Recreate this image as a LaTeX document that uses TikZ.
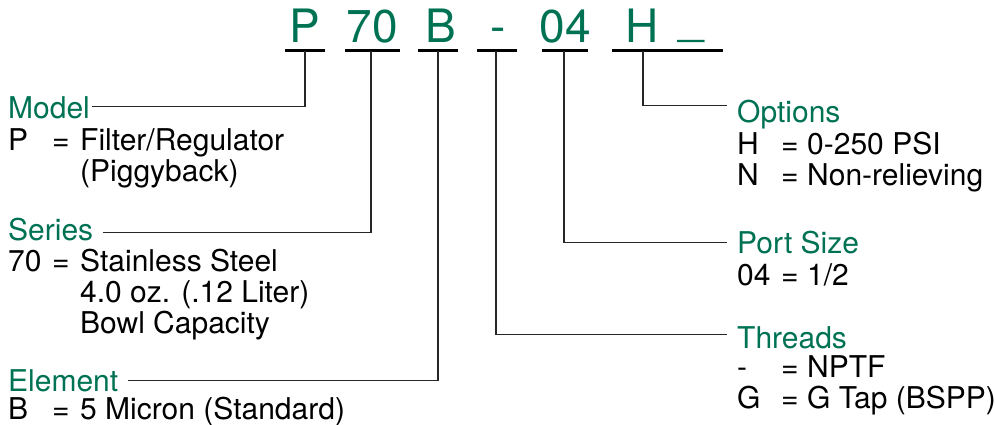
\documentclass[tikz,border=0pt]{standalone}
\usepackage{fontspec}
\setmainfont{TeX Gyre Heros}
\usepackage{array}
\usepackage{tikz}
\definecolor{codegreen}{RGB}{0,114,84}
\newcommand{\pick}[2][28pt]{\begin{tabular}[t]{@{}p{44pt}@{}p{#1}@{}l@{}}#2\end{tabular}}

\begin{document}
\begin{tikzpicture}[x=1pt,y=-1pt,
  code/.style={text=codegreen,font=\fontsize{46}{46}\selectfont,anchor=base,inner sep=0pt},
  head/.style={text=codegreen,font=\fontsize{30}{31}\selectfont,anchor=base west,inner sep=0pt,text height=21pt,text depth=0pt},
  body/.style={font=\fontsize{30}{31}\selectfont,anchor=base west,inner sep=0pt},
  uline/.style={line width=3pt},
  link/.style={line width=1.3pt,draw=black!85}]
\useasboundingbox (0,0) rectangle (995,425);
\node[code] (cP) at (305,43) {P};
\node[code] (c70) at (372,43) {70};
\node[code] (cB) at (441,43) {B};
\node[code] (cT) at (498,43) {-};
\node[code] (c04) at (565,43) {04};
\node[code] (cH) at (642,43) {H};
\node[code] (cX) at (691,35) {\_};
\draw[uline] (285,51)--(325,51);
\draw[uline] (345,51)--(400,51);
\draw[uline] (418,51)--(458,51);
\draw[uline] (477,51)--(517,51);
\draw[uline] (542,51)--(588,51);
\draw[uline] (612,51)--(723,51);
\coordinate (sP) at (305,51);
\coordinate (s70) at (371,51);
\coordinate (sB) at (438,51);
\coordinate (sT) at (496,51);
\coordinate (s04) at (564,51);
\coordinate (sH) at (643,51);
\node[head] (model) at (8,118) {Model};
\node[body] (modelTxt) at (8,150) {\pick{P&=&Filter/Regulator\\&&(Piggyback)}};
\node[head] (series) at (8,240) {Series};
\node[body] (seriesTxt) at (8,271) {\pick{70&=&Stainless Steel\\&&4.0 oz. (.12 Liter)\\&&Bowl Capacity}};
\node[head] (element) at (8,391) {Element};
\node[body] (elementTxt) at (8,419) {\pick{B&=&5 Micron (Standard)}};
\node[head] (options) at (737,122) {Options};
\node[body] (optionsTxt) at (737,154) {\pick[26pt]{H&=&0-250 PSI\\N&=&Non-relieving}};
\node[head] (port) at (737,253) {Port Size};
\node[body] (portTxt) at (737,285) {\pick[26pt]{04&=&1/2}};
\node[head] (threads) at (737,348) {Threads};
\node[body] (threadsTxt) at (737,377) {\pick[26pt]{-&=&NPTF\\G&=&G Tap (BSPP)}};
\draw[link] (sP) |- ([xshift=2pt,yshift=1pt]model.east);
\draw[link] (s70) |- ([xshift=10pt,yshift=-3pt]series.east);
\draw[link] (sB) |- ([xshift=10pt]element.east);
\draw[link] (sH) |- ([xshift=-10pt,yshift=6pt]options.west);
\draw[link] (s04) |- ([xshift=-10pt]port.west);
\draw[link] (sT) |- ([xshift=-10pt,yshift=3pt]threads.west);
\end{tikzpicture}
\end{document}
